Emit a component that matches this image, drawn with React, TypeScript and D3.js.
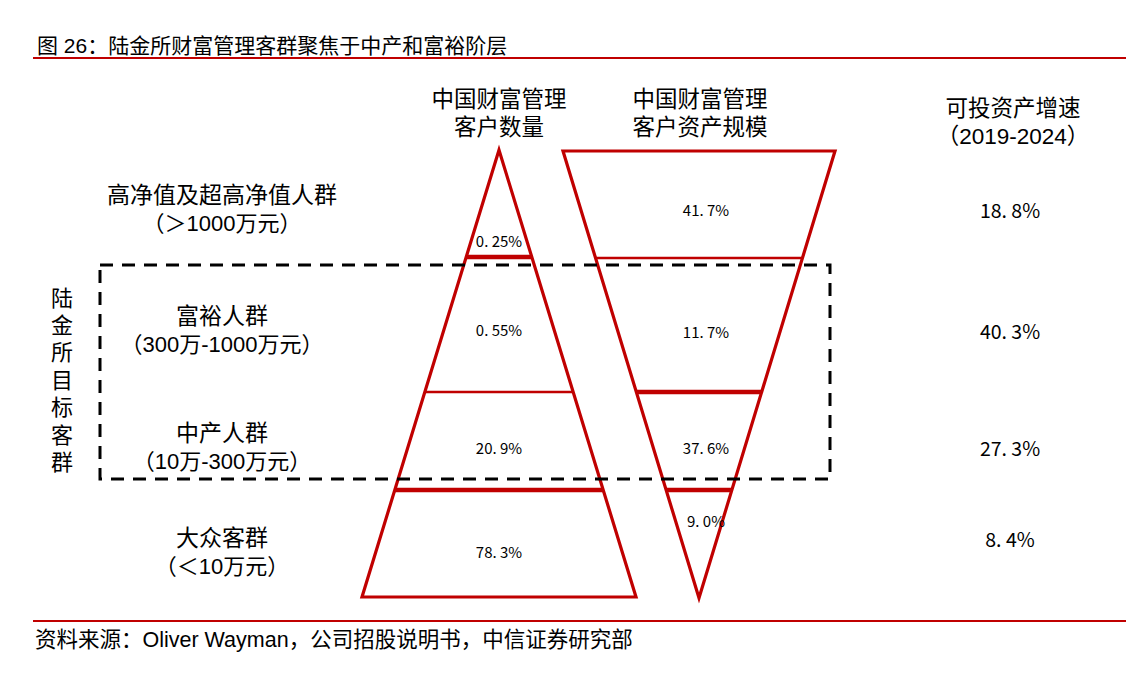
import React, { useEffect, useRef } from 'react';
import * as d3 from 'd3';

// tiers, top to bottom
const tiers = ['高净值及超高净值人群', '富裕人群', '中产人群', '大众客群'];
const tierRanges = ['（＞1000万元）', '（300万-1000万元）', '（10万-300万元）', '（＜10万元）'];
const clientShare = [0.25, 0.55, 20.9, 78.3];
const assetShare = [41.7, 11.7, 37.6, 9.0];
const growth = [18.8, 40.3, 27.3, 8.4];

const clientHeader = ['中国财富管理', '客户数量'];
const assetHeader = ['中国财富管理', '客户资产规模'];
const growthHeader = ['可投资产增速', '（2019-2024）'];
const targetLabel = '陆金所目标客群';
const title = '图 26：陆金所财富管理客群聚焦于中产和富裕阶层';
const source = '资料来源：Oliver Wayman，公司招股说明书，中信证券研究部';

const W = 1126;
const H = 673;
const RED = '#c00000';
const CJK = '"Liberation Sans", "Noto Sans CJK SC", sans-serif';
const NUM = '"Noto Sans CJK SC", "Liberation Sans", sans-serif';

const fmt = (v: number) => (v < 1 ? v.toFixed(2) : v.toFixed(1)).replace('.', '. ') + '%';

function draw(svgRoot: SVGSVGElement) {
    const svg = d3.select(svgRoot);
    svg.selectChildren().remove();
    svg.attr('viewBox', [0, 0, W, H] as any).attr('width', W).attr('height', H);

    const g = svg.append('g');

    // title + rules
    g.append('text').attr('x', 37).attr('y', 53).attr('font-size', 21)
        .attr('font-family', CJK).attr('fill', '#000').text(title);
    g.append('line').attr('x1', 33).attr('x2', W).attr('y1', 58).attr('y2', 58)
        .attr('stroke', RED).attr('stroke-width', 2);
    g.append('line').attr('x1', 33).attr('x2', W).attr('y1', 621).attr('y2', 621)
        .attr('stroke', RED).attr('stroke-width', 2);
    g.append('text').attr('x', 35).attr('y', 647).attr('font-size', 21.5)
        .attr('font-family', CJK).attr('fill', '#000').text(source);

    // tier geometry
    const top = 151;
    const bottom = 597;
    const cuts = [257, 392, 490];
    const rowY = [209, 330, 447, 538];

    // pyramid (client count), apex on top
    const pCx = 499;
    const pHalf = d3.scaleLinear().domain([top - 1, bottom]).range([0, 137]);
    // inverted (asset size), apex at the bottom
    const iCx = 699;
    const iHalf = d3.scaleLinear().domain([top, bottom + 1]).range([136, 0]);

    const lineGen = d3.line<[number, number]>();

    g.append('path')
        .attr('d', lineGen([[pCx, top - 1], [pCx + pHalf(bottom), bottom], [pCx - pHalf(bottom), bottom]]) + 'Z')
        .attr('fill', 'none').attr('stroke', RED).attr('stroke-width', 3.2);
    g.append('path')
        .attr('d', lineGen([[iCx - iHalf(top), top], [iCx + iHalf(top), top], [iCx, bottom + 1]]) + 'Z')
        .attr('fill', 'none').attr('stroke', RED).attr('stroke-width', 3.2);

    const pyrWidths = [4.5, 2.5, 4.5];
    const invWidths = [2.5, 4.5, 4.5];
    cuts.forEach((y, i) => {
        g.append('line')
            .attr('x1', pCx - pHalf(y)).attr('x2', pCx + pHalf(y))
            .attr('y1', y).attr('y2', y)
            .attr('stroke', RED).attr('stroke-width', pyrWidths[i]);
        const yi = y + (i === 0 ? 1 : 0);
        g.append('line')
            .attr('x1', iCx - iHalf(yi)).attr('x2', iCx + iHalf(yi))
            .attr('y1', yi).attr('y2', yi)
            .attr('stroke', RED).attr('stroke-width', invWidths[i]);
    });

    // value labels in the shapes
    const pLabelY = [240, 329, 447, 551];
    const iLabelY = [209, 331, 447, 520];
    clientShare.forEach((v, i) => {
        g.append('text').attr('x', pCx).attr('y', pLabelY[i])
            .attr('text-anchor', 'middle').attr('dominant-baseline', 'central')
            .attr('font-size', 15).attr('font-family', NUM).text(fmt(v));
    });
    assetShare.forEach((v, i) => {
        g.append('text').attr('x', iCx + 7).attr('y', iLabelY[i])
            .attr('text-anchor', 'middle').attr('dominant-baseline', 'central')
            .attr('font-size', 15).attr('font-family', NUM).text(fmt(v));
    });

    // column headers
    const headers: [string[], number, number][] = [
        [clientHeader, pCx, 99],
        [assetHeader, 700, 99],
        [growthHeader, 1013, 108],
    ];
    headers.forEach(([lines, x, y0]) => {
        lines.forEach((t, j) => {
            g.append('text').attr('x', x).attr('y', y0 + j * 28)
                .attr('text-anchor', 'middle').attr('dominant-baseline', 'central')
                .attr('font-size', 22.5).attr('font-family', CJK).text(t);
        });
    });

    // tier labels
    const labelY = [195, 316, 433, 538];
    tiers.forEach((t, i) => {
        g.append('text').attr('x', 222).attr('y', labelY[i])
            .attr('text-anchor', 'middle').attr('dominant-baseline', 'central')
            .attr('font-size', 23).attr('font-family', CJK).text(t);
        g.append('text').attr('x', 222).attr('y', labelY[i] + 28)
            .attr('text-anchor', 'middle').attr('dominant-baseline', 'central')
            .attr('font-size', 22).attr('font-family', CJK).text(tierRanges[i]);
    });

    // growth column
    growth.forEach((v, i) => {
        g.append('text').attr('x', 1010).attr('y', rowY[i])
            .attr('text-anchor', 'middle').attr('dominant-baseline', 'central')
            .attr('font-size', 19.5).attr('font-family', NUM).text(fmt(v));
    });

    // target box (富裕 + 中产)
    g.append('rect')
        .attr('x', 100).attr('y', 265)
        .attr('width', 830 - 100).attr('height', 479 - 265)
        .attr('fill', 'none').attr('stroke', '#000').attr('stroke-width', 3)
        .attr('stroke-dasharray', '13,9');

    // vertical label
    targetLabel.split('').forEach((c, i) => {
        g.append('text').attr('x', 62).attr('y', 298 + i * 27.4)
            .attr('text-anchor', 'middle').attr('dominant-baseline', 'central')
            .attr('font-size', 22).attr('font-family', CJK).text(c);
    });
}

export default function App() {
    const svgRef = useRef<SVGSVGElement>(null);
    useEffect(() => {
        svgRef.current && draw(svgRef.current);
    }, []);
    return (
        <div style={{ position: 'absolute', left: 0, top: 0, width: W, height: H, background: '#fff' }}>
            <svg ref={svgRef} style={{ display: 'block' }} />
        </div>
    );
}
